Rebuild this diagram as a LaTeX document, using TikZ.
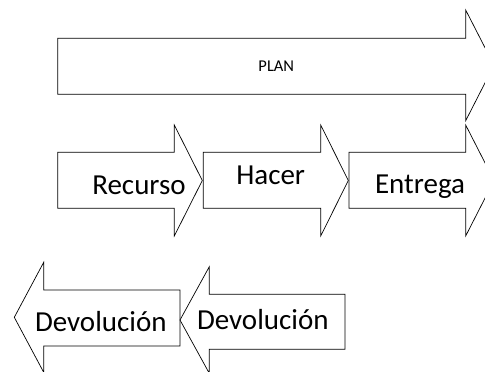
\documentclass[tikz,border=0pt]{standalone}
\usepackage{fontspec}
\setmainfont{Carlito}
\begin{document}
\begin{tikzpicture}[x=1pt,y=-1pt,
  arr/.style={draw=black,line width=0.7pt,fill=white,line join=miter},
  big/.style={anchor=base,inner sep=0pt,font=\fontsize{29}{34}\selectfont},
  small/.style={anchor=base,inner sep=0pt,font=\fontsize{16.5}{20}\selectfont}]
\useasboundingbox (0,0) rectangle (485,372);
% PLAN arrow
\draw[arr] (57.7,38.3) -- (465.7,38.3) -- (465.7,10) -- (494,65.3) -- (465.7,120.7) -- (465.7,94.3) -- (57.7,94.3) -- cycle;
\node[small] (plan) at (276.3,71.7) {PLAN};
% Row 2
\draw[arr] (57.7,152.3) -- (174.3,152.3) -- (174.3,125) -- (202.3,180.5) -- (174.3,236) -- (174.3,208.3) -- (57.7,208.3) -- cycle;
\draw[arr] (203.3,152.3) -- (320.7,152.3) -- (320.7,125) -- (348.3,180.5) -- (320.7,236) -- (320.7,208.3) -- (203.3,208.3) -- cycle;
\draw[arr] (349,152.3) -- (465.7,152.3) -- (465.7,125) -- (494,180.5) -- (465.7,236) -- (465.7,208.3) -- (349,208.3) -- cycle;
\node[big] (recurso) at (139,194.5) {Recurso};
\node[big] (hacer) at (270.7,184) {Hacer};
\node[big] (entrega) at (420,193) {Entrega};
% Row 3
\draw[arr] (180,290) -- (43.7,290) -- (43.7,262.3) -- (14.3,317.3) -- (43.7,372.3) -- (43.7,346) -- (180,346) -- cycle;
\draw[arr] (345,294.3) -- (209.3,294.3) -- (209.3,266.7) -- (180,320) -- (209.3,373.3) -- (209.3,349.3) -- (345,349.3) -- cycle;
\node[big] (dev1) at (100.8,331.7) {Devolución};
\node[big] (dev2) at (262.8,329.3) {Devolución};
\end{tikzpicture}
\end{document}
